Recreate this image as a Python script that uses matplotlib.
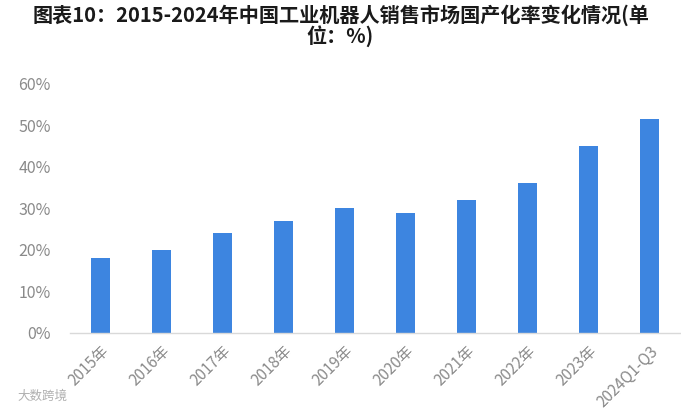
import matplotlib.pyplot as plt

plt.rcParams['font.family'] = ['Noto Sans CJK SC', 'DejaVu Sans']

# Data
years = ['2015年', '2016年', '2017年', '2018年', '2019年', '2020年',
         '2021年', '2022年', '2023年', '2024Q1-Q3']
share = [18.0, 20.0, 24.0, 27.0, 30.0, 29.0, 32.0, 36.0, 45.0, 51.5]
yticks = [0, 10, 20, 30, 40, 50, 60]

fig = plt.figure(figsize=(6.81, 4.11), dpi=100)
ax = fig.add_axes([0.103, 0.19, 0.895, 0.606])

x = range(len(years))
ax.bar(x, share, width=0.31, color='#3D85E0', zorder=2)

ax.set_xlim(-0.5, len(years) - 0.5)
ax.set_ylim(0, 60)
ax.set_yticks(yticks)
ax.set_yticklabels([f'{v}%' for v in yticks], color='#8a8a8a', fontsize=11.5)
ax.set_xticks(list(x))
ax.set_xticklabels(years, rotation=45, ha='right', rotation_mode='anchor',
                   color='#8a8a8a', fontsize=11)
ax.tick_params(axis='y', length=0, pad=14)
ax.tick_params(axis='x', length=0, pad=7)

for side in ['top', 'right', 'left']:
    ax.spines[side].set_visible(False)
ax.spines['bottom'].set_color('#d9d9d9')
ax.spines['bottom'].set_linewidth(1)

fig.text(0.5, 0.99, '图表10：2015-2024年中国工业机器人销售市场国产化率变化情况(单\n位：%)',
         ha='center', va='top', fontsize=14.5, fontweight='bold', color='#1a1a1a',
         linespacing=0.95)

fig.text(0.025, 0.02, '大数跨境', ha='left', va='bottom', fontsize=9, color='#b0b0b0')

fig.savefig('out.png', dpi=100)
plt.close(fig)
